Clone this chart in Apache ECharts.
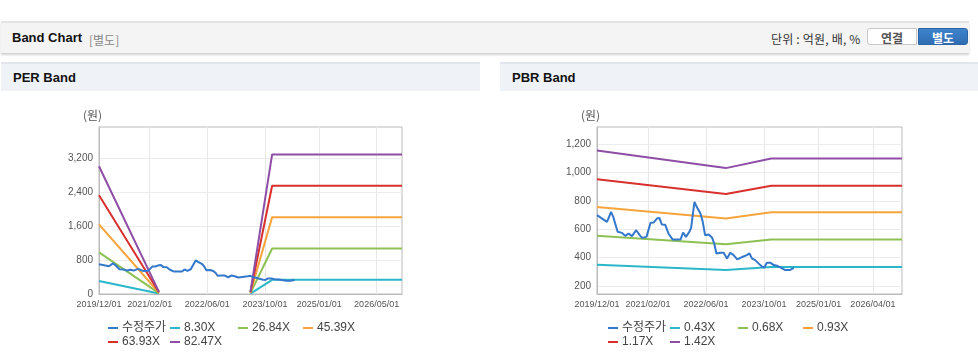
<!DOCTYPE html>
<html><head><meta charset="utf-8">
<script src="https://cdn.jsdelivr.net/npm/echarts@6/dist/echarts.min.js"></script>
<style>
html,body{margin:0;padding:0;background:#fff;width:978px;height:361px;overflow:hidden;font-family:"Liberation Sans","Noto Sans CJK KR",sans-serif;}
#topbar{position:absolute;left:1px;top:21px;width:968px;height:30px;background:#f4f4f4;border-top:2px solid #e4e4e4;box-shadow:0 2px 2px rgba(0,0,0,0.18);}
#title{position:absolute;left:11px;top:7px;font-size:13px;font-weight:bold;color:#111;}
#sub{position:absolute;left:88px;top:8px;font-size:12px;color:#888;font-family:"Noto Sans CJK KR",sans-serif;}
#unit{position:absolute;left:770px;top:7px;font-size:12px;color:#333;font-family:"Noto Sans CJK KR",sans-serif;letter-spacing:0.2px;}
.btn{position:absolute;top:5px;height:17px;width:50px;font-size:12px;font-weight:bold;text-align:center;line-height:17px;font-family:"Noto Sans CJK KR",sans-serif;box-sizing:border-box;}
#b1{left:866px;background:#fff;border:1px solid #c8c8c8;border-radius:3px 0 0 3px;color:#555;}
#b2{left:917px;background:linear-gradient(#3f84cc,#2f6db3);border:1px solid #2d66a8;border-radius:0 3px 3px 0;color:#fff;}
.sec{position:absolute;top:62px;height:27px;background:#eff2f6;border-top:2px solid #e2e6ec;}
.sec span{position:absolute;left:12px;top:6px;font-size:13px;font-weight:bold;color:#111;}
#chart{position:absolute;left:0;top:0;width:978px;height:361px;}
</style></head>
<body>
<div id="topbar"><div id="title">Band Chart</div><div id="sub">[별도]</div><div id="unit">단위 : 억원, 배, %</div><div class="btn" id="b1">연결</div><div class="btn" id="b2">별도</div></div>
<div class="sec" style="left:1px;width:479px;"><span>PER Band</span></div>
<div class="sec" style="left:500px;width:478px;"><span>PBR Band</span></div>
<div id="chart"></div>
<script>
// ---- data ----
const priceDates = ["2019-12-01","2020-01-13","2020-02-23","2020-03-07","2020-03-28","2020-04-15","2020-05-22","2020-06-28","2020-07-25","2020-08-22","2020-09-19","2020-10-25","2020-11-23","2020-12-13","2021-01-19","2021-02-22","2021-03-19","2021-04-16","2021-05-07","2021-05-28","2021-06-25","2021-07-22","2021-08-25","2021-10-01","2021-11-01","2021-11-22","2021-12-16","2022-01-13","2022-01-28","2022-02-25","2022-03-16","2022-04-16","2022-05-04","2022-05-25","2022-06-25","2022-07-22","2022-08-10","2022-08-28","2022-10-01","2022-10-28","2022-11-25","2022-12-22","2023-01-19","2023-02-19","2023-03-07","2023-04-07","2023-05-10","2023-06-01","2023-06-22","2023-07-19","2023-08-16","2023-09-16","2023-10-04","2023-10-25","2023-11-25","2023-12-22","2024-01-25","2024-02-22","2024-03-28","2024-05-04","2024-06-07"];
const priceValues = [700,676,653,646,723,688,583,575,554,571,552,594,559,540,547,646,648,676,681,634,632,571,529,529,529,578,547,583,611,794,759,712,660,559,564,543,500,430,435,435,395,435,418,388,376,407,418,430,395,383,360,336,331,364,364,348,341,329,313,313,329];

const perNames = ["8.30X","26.84X","45.39X","63.93X","82.47X"];
const perDates = ["2019-12-01","2021-04-20",null,"2023-06-01","2023-12-01","2026-12-01"];
const per830  = [306, 10, null, 10, 333, 333];
const per2684 = [981, 20, null, 20, 1072, 1072];
const per4539 = [1640, 30, null, 30, 1812, 1812];
const per6393 = [2329, 40, null, 40, 2553, 2553];
const per8247 = [3012, 50, null, 50, 3290, 3290];

const pbrNames = ["0.43X","0.68X","0.93X","1.17X","1.42X"];
const pbrDates = ["2019-12-01","2022-11-15","2023-12-01","2026-12-01"];
const pbr043 = [351, 313, 334, 334];
const pbr068 = [555, 495, 528, 528];
const pbr093 = [757, 676, 720, 720];
const pbr117 = [953, 850, 908, 908];
const pbr142 = [1157, 1032, 1100, 1100];

const perXTicks = ["2019-12-01","2021-02-01","2022-06-01","2023-10-01","2025-01-01","2026-05-01"];
const pbrXTicks = ["2019-12-01","2021-02-01","2022-06-01","2023-10-01","2025-01-01","2026-04-01"];
const perYTicks = [0,800,1600,2400,3200];
const pbrYTicks = [200,400,600,800,1000,1200];

const colors = ["#3478cc","#2bb7c9","#8dc153","#f6a43b","#d8302c","#8f4ea6"];
// ---- chart ----
function pairs(dates, vals){ return dates.map((d,i)=> d===null ? '-' : [d, vals[i]]); }
const font = '"Liberation Sans", Arial, sans-serif';
function xAxis(gi, ticks){
  return {type:'time', gridIndex:gi, min:'2019-12-01', max:'2026-12-01',
    axisLine:{show:true, lineStyle:{color:'#bbb'}},
    axisTick:{show:false, customValues:ticks},
    splitLine:{show:true, lineStyle:{color:'#e8e8e8'}},
    axisLabel:{customValues:ticks, formatter:'{yyyy}/{MM}/{dd}', color:'#555', fontSize:9, fontFamily:font, margin:6, hideOverlap:false}};
}
function yAxis(gi, mn, mx, ticks){
  return {type:'value', gridIndex:gi, min:mn, max:mx,
    axisLine:{show:true, lineStyle:{color:'#bbb'}},
    axisTick:{show:false, customValues:ticks},
    splitLine:{show:true, lineStyle:{color:'#ececec'}},
    axisLabel:{customValues:ticks, color:'#555', fontSize:10, fontFamily:font, margin:6}};
}
function line(name, data, color, gi){
  return {name, type:'line', xAxisIndex:gi, yAxisIndex:gi, data, showSymbol:false, symbol:'none', connectNulls:false,
    lineStyle:{width:2, color}, itemStyle:{color}, animation:false};
}
const series = [
  line('수정주가', priceDates.map((d,i)=>[d,priceValues[i]]), colors[0], 0),
  line('8.30X', pairs(perDates, per830), colors[1], 0),
  line('26.84X', pairs(perDates, per2684), colors[2], 0),
  line('45.39X', pairs(perDates, per4539), colors[3], 0),
  line('63.93X', pairs(perDates, per6393), colors[4], 0),
  line('82.47X', pairs(perDates, per8247), colors[5], 0),
  line('수정주가 ', priceDates.map((d,i)=>[d,priceValues[i]]), colors[0], 1),
  line('0.43X', pbrDates.map((d,i)=>[d,pbr043[i]]), colors[1], 1),
  line('0.68X', pbrDates.map((d,i)=>[d,pbr068[i]]), colors[2], 1),
  line('0.93X', pbrDates.map((d,i)=>[d,pbr093[i]]), colors[3], 1),
  line('1.17X', pbrDates.map((d,i)=>[d,pbr117[i]]), colors[4], 1),
  line('1.42X', pbrDates.map((d,i)=>[d,pbr142[i]]), colors[5], 1)
];
const legendPos = [[108,322],[170,322],[238,322],[303,322],[108,336],[170,336]];
const legends = [];
const names1 = ['수정주가'].concat(perNames), names2 = ['수정주가 '].concat(pbrNames);
names1.forEach((n,i)=>legends.push({data:[n], left:legendPos[i][0], top:legendPos[i][1]}));
names2.forEach((n,i)=>legends.push({data:[n], left:legendPos[i][0]+500, top:legendPos[i][1]}));
legends.forEach(l=>{ Object.assign(l,{icon:'rect', itemWidth:10, itemHeight:2, itemGap:0, padding:0, selectedMode:false,
  textStyle:{fontSize:12, color:'#444', fontFamily:'"Liberation Sans","Noto Sans CJK KR",sans-serif', padding:[0,0,0,-1]},
  formatter:(s)=>s.trim()}); });

const chart = echarts.init(document.getElementById('chart'), null, {renderer:'canvas'});
chart.setOption({
  animation:false,
  color:colors,
  grid:[
    {left:99, top:127, width:303, height:167, show:true, borderColor:'#bbb', borderWidth:1, backgroundColor:'transparent'},
    {left:597, top:127, width:305, height:167, show:true, borderColor:'#bbb', borderWidth:1, backgroundColor:'transparent'}
  ],
  xAxis:[xAxis(0, perXTicks), xAxis(1, pbrXTicks)],
  yAxis:[yAxis(0, 0, 3937, perYTicks), yAxis(1, 144, 1322, pbrYTicks)],
  legend:legends,
  graphic:[
    {type:'text', left:83, top:109, style:{text:'(원)', fontSize:12, fill:'#555', fontFamily:'"Noto Sans CJK KR",sans-serif'}},
    {type:'text', left:581, top:109, style:{text:'(원)', fontSize:12, fill:'#555', fontFamily:'"Noto Sans CJK KR",sans-serif'}}
  ],
  series: series.slice(1,6).concat([series[0]]).concat(series.slice(7,12)).concat([series[6]])
});
</script>
</body></html>
